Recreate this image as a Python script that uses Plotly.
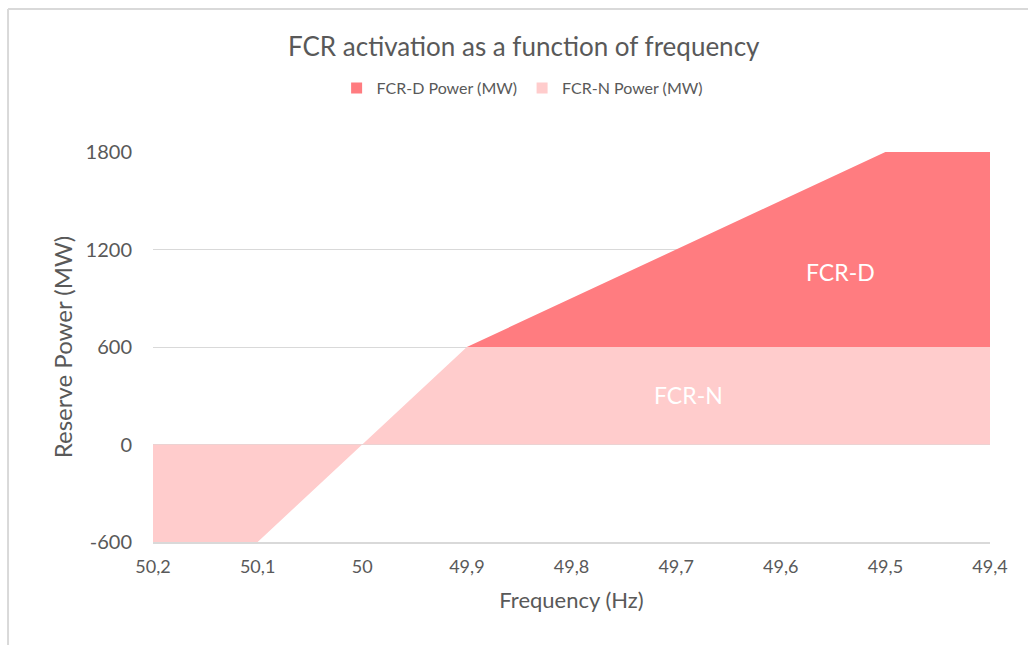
import plotly.graph_objects as go

# Frequency steps (Hz) and the labels printed under them
frequency = [50.2, 50.1, 50.0, 49.9, 49.8, 49.7, 49.6, 49.5, 49.4]
freq_labels = ["50,2", "50,1", "50", "49,9", "49,8", "49,7", "49,6", "49,5", "49,4"]

# Reserve power (MW) per frequency step; FCR-D is stacked on top of FCR-N
fcr_n_power = [-600, -600, 0, 600, 600, 600, 600, 600, 600]
fcr_d_power = [0, 0, 0, 0, 300, 600, 900, 1200, 1200]

y_ticks = [-600, 0, 600, 1200, 1800]
y_labels = ["-600", "0", "600", "1200", "1800"]

FONT = "Lato, Open Sans, sans-serif"
GREY = "#595959"
COLOR_N = "#FFCCCC"
COLOR_D = "#FF7C80"

fig = go.Figure()
fig.add_trace(go.Scatter(
    x=frequency, y=fcr_n_power, name="FCR-N Power (MW)",
    stackgroup="one", mode="lines", line=dict(width=0, color=COLOR_N),
    fillcolor=COLOR_N, showlegend=False,
))
fig.add_trace(go.Scatter(
    x=frequency, y=fcr_d_power, name="FCR-D Power (MW)",
    stackgroup="one", mode="lines", line=dict(width=0, color=COLOR_D),
    fillcolor=COLOR_D, showlegend=False,
))

# Square legend keys for the two areas
for name, color in [("FCR-D Power (MW)", COLOR_D), ("FCR-N Power (MW)", COLOR_N)]:
    fig.add_trace(go.Scatter(
        x=[None], y=[None], name=name, mode="markers",
        marker=dict(symbol="square", size=11, color=color),
    ))

fig.add_annotation(x=49.543, y=1062, text="FCR-D", showarrow=False,
                   font=dict(family=FONT, size=23, color="white"))
fig.add_annotation(x=49.688, y=305, text="FCR-N", showarrow=False,
                   font=dict(family=FONT, size=23, color="white"))

# Outer chart frame (top and left edges)
fig.add_shape(type="line", xref="paper", yref="paper",
              x0=-0.1732, x1=1.0454, y0=1.3667, y1=1.3667,
              line=dict(color="#D9D9D9", width=2))
fig.add_shape(type="line", xref="paper", yref="paper",
              x0=-0.1732, x1=-0.1732, y0=1.3667, y1=-0.27,
              line=dict(color="#D9D9D9", width=2))

fig.update_layout(
    width=1035, height=645,
    margin=dict(l=153, r=45, t=152, b=103),
    paper_bgcolor="white", plot_bgcolor="white",
    font=dict(family=FONT, color=GREY),
    title=dict(text="FCR activation as a function of frequency",
               x=0.506, xref="container", xanchor="center", y=0.927, yanchor="middle",
               font=dict(family=FONT, size=26, color=GREY)),
    legend=dict(orientation="h", x=0.441, xanchor="center", y=1.164, yanchor="middle",
                traceorder="normal", font=dict(family=FONT, size=16, color=GREY),
                itemwidth=30, tracegroupgap=0),
    showlegend=True,
    xaxis=dict(
        range=[50.2, 49.4], tickvals=frequency, ticktext=freq_labels,
        showgrid=False, zeroline=False, showline=True, linecolor="#D9D9D9", linewidth=2,
        ticks="", tickfont=dict(family=FONT, size=18, color=GREY), ticklabelstandoff=7,
        title=dict(text="Frequency (Hz)", font=dict(family=FONT, size=22, color=GREY), standoff=17),
    ),
    yaxis=dict(
        range=[-600, 1800], tickvals=y_ticks, ticktext=y_labels,
        showgrid=True, gridcolor="#D9D9D9", gridwidth=1,
        zeroline=True, zerolinecolor="#D9D9D9", zerolinewidth=1,
        ticks="", tickfont=dict(family=FONT, size=20, color=GREY), ticklabelstandoff=20,
        title=dict(text="Reserve Power (MW)", font=dict(family=FONT, size=24, color=GREY), standoff=6),
    ),
)

fig.write_html("out.html")
